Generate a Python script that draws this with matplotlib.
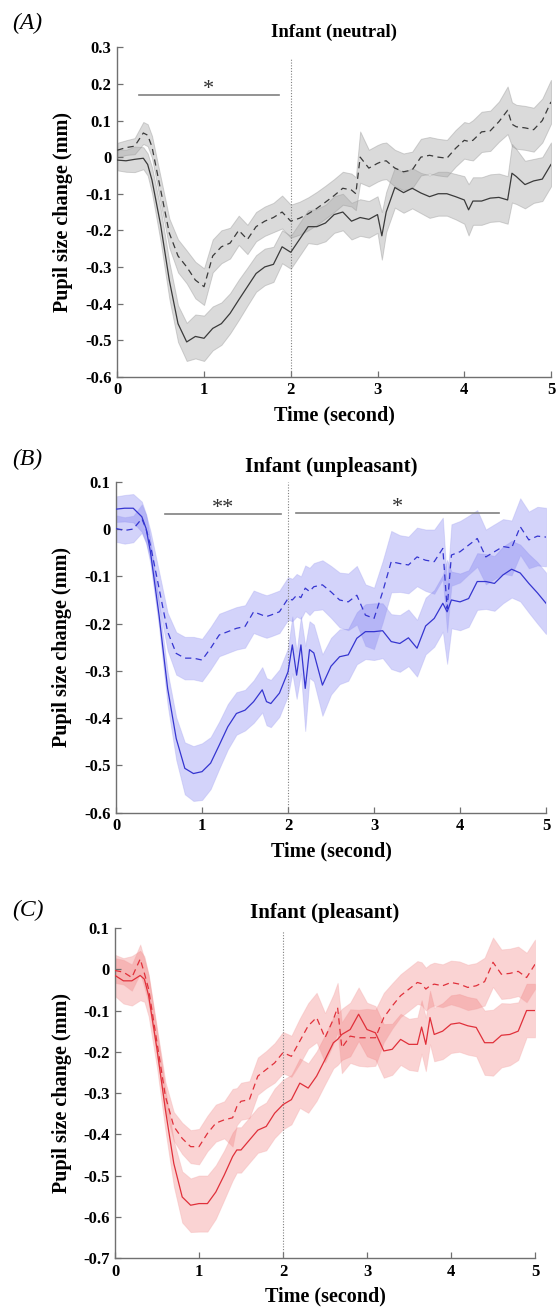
import matplotlib
matplotlib.use("Agg")
import matplotlib.pyplot as plt
import numpy as np

plt.rcParams["font.family"] = ["Liberation Serif", "DejaVu Serif"]
plt.rcParams["axes.unicode_minus"] = False

# ---- panel A: infant (neutral) ----
TIME_A = [0.0, 0.1, 0.2, 0.3, 0.35, 0.4, 0.5, 0.6, 0.7, 0.8,
          0.9, 1.0, 1.1, 1.2, 1.3, 1.4, 1.5, 1.6, 1.7, 1.8,
          1.9, 2.0, 2.1, 2.2, 2.3, 2.4, 2.5, 2.6, 2.7, 2.75,
          2.8, 2.9, 3.0, 3.05, 3.1, 3.2, 3.3, 3.4, 3.5, 3.6,
          3.7, 3.8, 3.9, 4.0, 4.05, 4.1, 4.2, 4.3, 4.4, 4.5,
          4.55, 4.6, 4.7, 4.8, 4.9, 5.0]
SOLID_A = [-0.008, -0.010, -0.006, -0.003, -0.020, -0.063, -0.186, -0.337, -0.455, -0.505,
           -0.490, -0.495, -0.468, -0.455, -0.427, -0.390, -0.354, -0.318, -0.300, -0.293,
           -0.245, -0.260, -0.225, -0.190, -0.190, -0.180, -0.157, -0.150, -0.175, -0.170,
           -0.165, -0.170, -0.157, -0.215, -0.150, -0.083, -0.097, -0.085, -0.098, -0.108,
           -0.100, -0.100, -0.108, -0.117, -0.144, -0.120, -0.120, -0.112, -0.110, -0.117,
           -0.044, -0.053, -0.075, -0.065, -0.060, -0.020]
SOLID_SEM_A = [0.028, 0.030, 0.035, 0.030, 0.030, 0.035, 0.045, 0.050, 0.050, 0.052,
               0.060, 0.062, 0.060, 0.058, 0.055, 0.055, 0.052, 0.050, 0.050, 0.048,
               0.045, 0.045, 0.045, 0.045, 0.048, 0.050, 0.050, 0.050, 0.050, 0.050,
               0.050, 0.050, 0.050, 0.065, 0.055, 0.055, 0.055, 0.055, 0.055, 0.058,
               0.060, 0.060, 0.062, 0.065, 0.070, 0.065, 0.065, 0.065, 0.065, 0.065,
               0.080, 0.075, 0.065, 0.060, 0.060, 0.060]
DASHED_A = [0.019, 0.026, 0.030, 0.066, 0.060, 0.028, -0.090, -0.208, -0.270, -0.300,
            -0.336, -0.354, -0.270, -0.245, -0.235, -0.200, -0.225, -0.190, -0.175, -0.165,
            -0.150, -0.175, -0.167, -0.155, -0.140, -0.123, -0.105, -0.085, -0.090, -0.100,
            0.000, -0.030, -0.017, -0.012, -0.010, -0.030, -0.040, -0.035, 0.000, 0.005,
            0.000, -0.003, 0.024, 0.046, 0.043, 0.046, 0.069, 0.072, 0.097, 0.128,
            0.090, 0.083, 0.080, 0.075, 0.100, 0.151]
DASHED_SEM_A = [0.020, 0.020, 0.022, 0.030, 0.030, 0.030, 0.035, 0.040, 0.045, 0.045,
                0.050, 0.050, 0.045, 0.045, 0.042, 0.040, 0.040, 0.040, 0.040, 0.040,
                0.045, 0.045, 0.045, 0.045, 0.045, 0.045, 0.045, 0.045, 0.045, 0.045,
                0.070, 0.050, 0.050, 0.050, 0.050, 0.050, 0.050, 0.050, 0.050, 0.050,
                0.050, 0.050, 0.050, 0.050, 0.050, 0.055, 0.055, 0.055, 0.055, 0.065,
                0.060, 0.060, 0.060, 0.060, 0.060, 0.060]

# ---- panel B: infant (unpleasant) ----
TIME_B = [0.0, 0.1, 0.2, 0.3, 0.35, 0.4, 0.5, 0.6, 0.7, 0.8,
          0.9, 1.0, 1.1, 1.2, 1.3, 1.4, 1.5, 1.6, 1.7, 1.75,
          1.8, 1.9, 2.0, 2.05, 2.1, 2.15, 2.2, 2.25, 2.3, 2.4,
          2.5, 2.6, 2.7, 2.8, 2.9, 3.0, 3.1, 3.2, 3.3, 3.4,
          3.5, 3.6, 3.7, 3.8, 3.85, 3.9, 4.0, 4.1, 4.2, 4.3,
          4.4, 4.5, 4.6, 4.7, 4.8, 4.9, 5.0]
SOLID_B = [0.042, 0.044, 0.044, 0.026, 0.001, -0.048, -0.182, -0.337, -0.443, -0.506,
           -0.517, -0.513, -0.495, -0.457, -0.418, -0.390, -0.383, -0.365, -0.340, -0.365,
           -0.369, -0.347, -0.302, -0.245, -0.309, -0.245, -0.337, -0.255, -0.262, -0.330,
           -0.290, -0.270, -0.266, -0.231, -0.217, -0.217, -0.215, -0.238, -0.242, -0.230,
           -0.252, -0.205, -0.189, -0.157, -0.175, -0.150, -0.154, -0.147, -0.111, -0.111,
           -0.115, -0.097, -0.085, -0.093, -0.115, -0.135, -0.157]
SOLID_SEM_B = [0.027, 0.028, 0.030, 0.032, 0.030, 0.025, 0.025, 0.035, 0.045, 0.055,
               0.058, 0.060, 0.055, 0.050, 0.048, 0.045, 0.043, 0.045, 0.048, 0.050,
               0.050, 0.050, 0.050, 0.060, 0.050, 0.060, 0.090, 0.060, 0.060, 0.065,
               0.060, 0.058, 0.055, 0.055, 0.058, 0.060, 0.058, 0.058, 0.060, 0.060,
               0.060, 0.060, 0.060, 0.060, 0.110, 0.060, 0.060, 0.060, 0.060, 0.058,
               0.058, 0.060, 0.060, 0.060, 0.062, 0.065, 0.065]
DASHED_B = [0.001, -0.003, 0.000, 0.022, 0.000, -0.034, -0.125, -0.217, -0.263, -0.273,
            -0.273, -0.277, -0.252, -0.224, -0.217, -0.210, -0.206, -0.175, -0.182, -0.185,
            -0.182, -0.175, -0.147, -0.150, -0.140, -0.145, -0.125, -0.132, -0.122, -0.118,
            -0.133, -0.150, -0.154, -0.140, -0.182, -0.189, -0.133, -0.069, -0.073, -0.076,
            -0.059, -0.066, -0.069, -0.041, -0.168, -0.055, -0.048, -0.034, -0.020, -0.059,
            -0.048, -0.037, -0.040, 0.005, -0.023, -0.015, -0.017]
DASHED_SEM_B = [0.028, 0.028, 0.028, 0.030, 0.030, 0.030, 0.035, 0.040, 0.045, 0.045,
                0.045, 0.045, 0.045, 0.045, 0.045, 0.045, 0.045, 0.045, 0.045, 0.045,
                0.045, 0.045, 0.045, 0.045, 0.045, 0.045, 0.048, 0.050, 0.050, 0.052,
                0.055, 0.058, 0.060, 0.062, 0.065, 0.065, 0.065, 0.065, 0.060, 0.060,
                0.062, 0.065, 0.068, 0.065, 0.050, 0.065, 0.065, 0.062, 0.060, 0.058,
                0.058, 0.058, 0.058, 0.060, 0.060, 0.062, 0.062]

# ---- panel C: infant (pleasant) ----
TIME_C = [0.0, 0.1, 0.2, 0.3, 0.35, 0.4, 0.5, 0.6, 0.7, 0.8,
          0.9, 1.0, 1.1, 1.2, 1.3, 1.4, 1.45, 1.5, 1.6, 1.7,
          1.8, 1.9, 2.0, 2.1, 2.2, 2.3, 2.4, 2.5, 2.6, 2.65,
          2.7, 2.8, 2.9, 3.0, 3.1, 3.2, 3.3, 3.4, 3.5, 3.6,
          3.65, 3.7, 3.75, 3.8, 3.9, 4.0, 4.1, 4.2, 4.3, 4.4,
          4.5, 4.6, 4.7, 4.8, 4.9, 5.0]
SOLID_C = [-0.015, -0.028, -0.028, -0.015, -0.024, -0.064, -0.194, -0.341, -0.471, -0.552,
           -0.572, -0.568, -0.568, -0.540, -0.499, -0.454, -0.438, -0.438, -0.414, -0.390,
           -0.381, -0.349, -0.328, -0.316, -0.276, -0.288, -0.259, -0.219, -0.178, -0.170,
           -0.158, -0.146, -0.109, -0.146, -0.154, -0.198, -0.194, -0.170, -0.182, -0.182,
           -0.140, -0.182, -0.117, -0.158, -0.150, -0.133, -0.130, -0.137, -0.141, -0.178,
           -0.178, -0.160, -0.158, -0.150, -0.100, -0.100]
SOLID_SEM_C = [0.050, 0.055, 0.060, 0.060, 0.055, 0.050, 0.045, 0.050, 0.055, 0.062,
               0.065, 0.068, 0.068, 0.065, 0.060, 0.058, 0.055, 0.055, 0.055, 0.055,
               0.058, 0.060, 0.060, 0.060, 0.060, 0.060, 0.060, 0.060, 0.062, 0.062,
               0.062, 0.065, 0.065, 0.065, 0.065, 0.065, 0.062, 0.062, 0.062, 0.065,
               0.065, 0.065, 0.065, 0.065, 0.068, 0.070, 0.070, 0.070, 0.070, 0.078,
               0.080, 0.078, 0.075, 0.070, 0.065, 0.065]
DASHED_C = [-0.003, -0.007, -0.020, 0.025, -0.010, -0.048, -0.178, -0.308, -0.381, -0.410,
            -0.430, -0.430, -0.398, -0.373, -0.365, -0.360, -0.333, -0.320, -0.316, -0.259,
            -0.243, -0.227, -0.202, -0.211, -0.174, -0.137, -0.117, -0.166, -0.121, -0.093,
            -0.190, -0.162, -0.166, -0.166, -0.166, -0.117, -0.089, -0.064, -0.048, -0.032,
            -0.035, -0.048, -0.040, -0.036, -0.040, -0.032, -0.036, -0.044, -0.040, -0.030,
            0.017, -0.012, -0.010, -0.005, -0.020, 0.012]
DASHED_SEM_C = [0.030, 0.030, 0.032, 0.035, 0.035, 0.035, 0.035, 0.035, 0.035, 0.038,
                0.040, 0.043, 0.043, 0.045, 0.045, 0.070, 0.045, 0.045, 0.045, 0.045,
                0.045, 0.048, 0.050, 0.050, 0.055, 0.055, 0.060, 0.060, 0.060, 0.060,
                0.062, 0.065, 0.068, 0.070, 0.068, 0.060, 0.055, 0.052, 0.052, 0.052,
                0.052, 0.052, 0.052, 0.052, 0.052, 0.053, 0.055, 0.055, 0.055, 0.058,
                0.060, 0.060, 0.060, 0.060, 0.060, 0.060]

YTICKS_A = [-0.6, -0.5, -0.4, -0.3, -0.2, -0.1, 0.0, 0.1, 0.2, 0.3]
YTICKS_B = [-0.6, -0.5, -0.4, -0.3, -0.2, -0.1, 0.0, 0.1]
YTICKS_C = [-0.7, -0.6, -0.5, -0.4, -0.3, -0.2, -0.1, 0.0, 0.1]
XTICKS = [0, 1, 2, 3, 4, 5]

# significance bars: (start, end, bar height, star centre height, stars)
SIG_A = [(0.25, 1.86, 0.170, 0.193, "*")]
SIG_B = [(0.57, 1.92, 0.032, 0.049, "**"), (2.09, 4.45, 0.034, 0.052, "*")]
SIG_C = []

SPINE = "#707070"


def fmt_tick(v: float) -> str:
    if abs(v) < 1e-9:
        return "0"
    return f"{v:.1f}"


def draw_panel(ax, t, solid, solid_sem, dashed, dashed_sem, yticks, sig, style, title,
               title_size, onset_top):
    t = np.asarray(t)
    for mean, sem in [(solid, solid_sem), (dashed, dashed_sem)]:
        mean = np.asarray(mean)
        sem = np.asarray(sem)
        ax.fill_between(t, mean - sem, mean + sem, facecolor=style["fill"], alpha=style["alpha"],
                        edgecolor=style["edge"], linewidth=0.7, zorder=1)
    ax.plot(t, solid, color=style["line"], lw=0.9, zorder=3)
    ax.plot(t, dashed, color=style["line"], lw=0.9, ls=(0, (5, 3.5)), zorder=3)

    ax.plot([2, 2], [yticks[0], onset_top], color="#808080", lw=0.8, ls=(0, (1, 1.5)), zorder=2)

    for start, end, height, star_y, stars in sig:
        ax.plot([start, end], [height, height], color="#808080", lw=1.2, zorder=4)
        ax.annotate(stars, ((start + end) / 2, star_y), xytext=(0, -5.5),
                    textcoords="offset points", ha="center", va="baseline",
                    fontsize=16, color="#303030", zorder=4)

    ax.set_xlim(0, 5)
    ax.set_ylim(yticks[0], yticks[-1])
    ax.set_xticks(XTICKS)
    ax.set_xticklabels([str(v) for v in XTICKS])
    ax.set_yticks(yticks)
    ax.set_yticklabels([fmt_tick(v) for v in yticks])
    for side in ["top", "right"]:
        ax.spines[side].set_visible(False)
    for side in ["left", "bottom"]:
        ax.spines[side].set_color(SPINE)
        ax.spines[side].set_linewidth(1.0)
    ax.tick_params(direction="in", length=4, width=0.9, color=SPINE, labelsize=12, pad=4)
    for lab in ax.get_xticklabels() + ax.get_yticklabels():
        lab.set_fontweight("bold")

    ax.set_xlabel("Time (second)", fontsize=14.5, fontweight="bold")
    ax.set_ylabel("Pupil size change (mm)", fontsize=14.5, fontweight="bold")
    ax.xaxis.set_label_coords(0.5, -0.087)
    ax.yaxis.set_label_coords(-0.103, 0.5)
    ax.text(0.5, 1.046, title, transform=ax.transAxes, ha="center", va="center",
            fontsize=title_size, fontweight="bold")


fig = plt.figure(figsize=(5.57, 13.08), dpi=100)
ax_a = fig.add_axes([0.2106, 0.7120, 0.7786, 0.2518])
ax_b = fig.add_axes([0.2083, 0.3786, 0.7720, 0.2531])
ax_c = fig.add_axes([0.2065, 0.0382, 0.7540, 0.2523])

gray = {"fill": "#a8a8a8", "alpha": 0.42, "edge": "#999999", "line": "#3a3a3a"}
blue = {"fill": "#7070f0", "alpha": 0.3, "edge": "#9c9cf0", "line": "#3535d0"}
red = {"fill": "#f07070", "alpha": 0.3, "edge": "#f2a0a0", "line": "#e0303a"}

draw_panel(ax_a, TIME_A, SOLID_A, SOLID_SEM_A, DASHED_A, DASHED_SEM_A, YTICKS_A, SIG_A, gray,
           "Infant (neutral)", 13.5, 0.267)
draw_panel(ax_b, TIME_B, SOLID_B, SOLID_SEM_B, DASHED_B, DASHED_SEM_B, YTICKS_B, SIG_B, blue,
           "Infant (unpleasant)", 15, 0.1)
draw_panel(ax_c, TIME_C, SOLID_C, SOLID_SEM_C, DASHED_C, DASHED_SEM_C, YTICKS_C, SIG_C, red,
           "Infant (pleasant)", 15, 0.094)

H = 1308.0
for letter, ypx in [("(A)", 23), ("(B)", 459), ("(C)", 910)]:
    fig.text(12 / 557, 1 - ypx / H, letter, ha="left", va="center", fontsize=17, style="italic")

fig.savefig("out.png", dpi=100)
